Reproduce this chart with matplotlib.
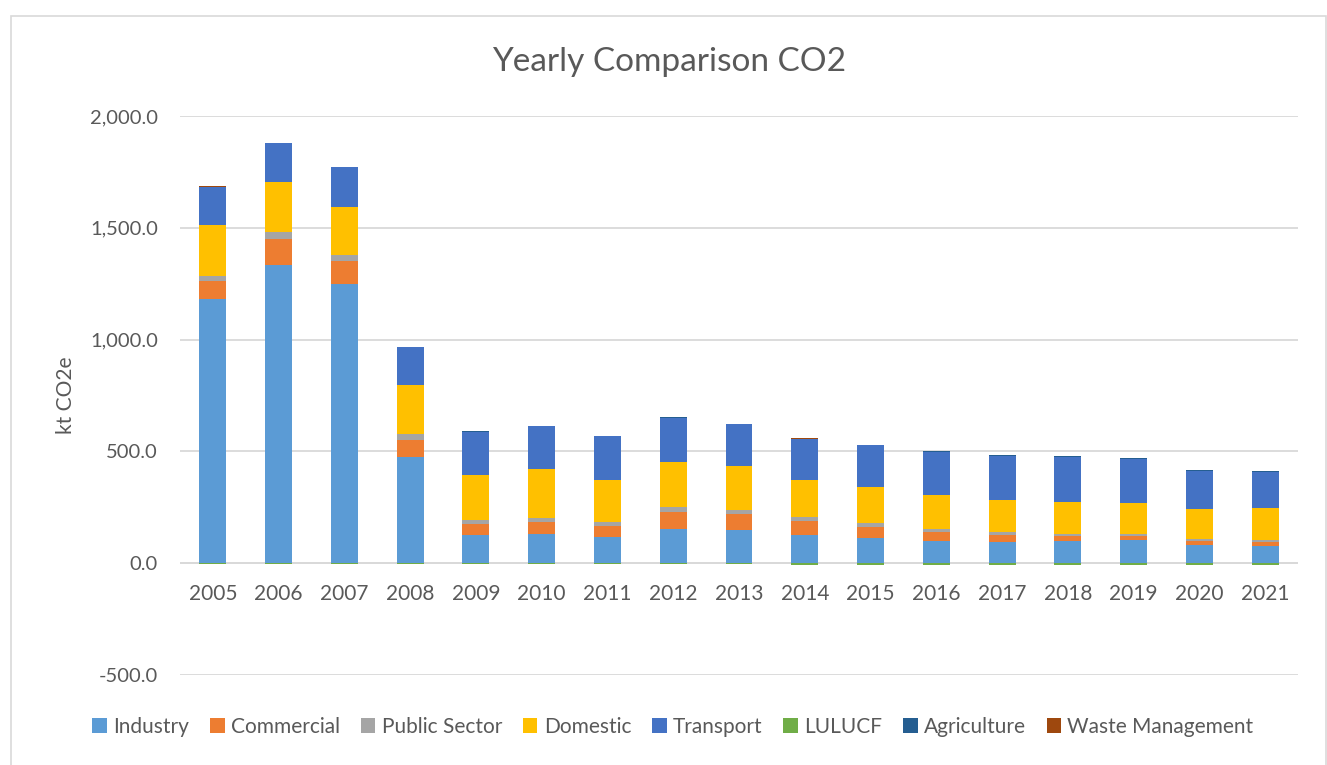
import matplotlib
matplotlib.use("Agg")
import matplotlib.pyplot as plt
import matplotlib.patches as patches
from matplotlib.ticker import FuncFormatter
import numpy as np

plt.rcParams["font.family"] = ["Lato", "DejaVu Sans"]

years = ["2005", "2006", "2007", "2008", "2009", "2010", "2011", "2012", "2013",
         "2014", "2015", "2016", "2017", "2018", "2019", "2020", "2021"]

industry = [1181, 1332, 1247, 476, 124, 131, 115, 151, 148, 127, 113, 100, 95, 100, 103, 82, 77]
commercial = [82, 116, 103, 77, 52, 54, 52, 79, 71, 62, 50, 40, 30, 22, 19, 16, 17]
public_sector = [22, 33, 27, 23, 18, 19, 16, 21, 20, 18, 15, 11, 14, 9, 9, 8, 9]
domestic = [226, 224, 217, 219, 200, 216, 188, 202, 195, 164, 161, 152, 142, 142, 136, 136, 142]
transport = [171, 173, 176, 170, 194, 192, 196, 197, 187, 184, 188, 195, 199, 203, 200, 171, 165]
lulucf = [-4, -4, -4, -4, -5, -5, -5, -5, -5, -6, -7, -7, -7, -7, -7, -8, -8]
agriculture = [2, 2, 2, 2, 2, 2, 2, 2, 2, 2, 2, 2, 2, 2, 2, 2, 2]
waste = [1, 1, 1, 1, 1, 1, 1, 1, 1, 1, 1, 1, 1, 1, 1, 1, 1]

series = [
    ("Industry", industry, "#5B9BD5"),
    ("Commercial", commercial, "#ED7D31"),
    ("Public Sector", public_sector, "#A5A5A5"),
    ("Domestic", domestic, "#FFC000"),
    ("Transport", transport, "#4472C4"),
    ("LULUCF", lulucf, "#70AD47"),
    ("Agriculture", agriculture, "#255E91"),
    ("Waste Management", waste, "#9E480E"),
]

text_col = "#595959"
grid_col = "#D9D9D9"

fig = plt.figure(figsize=(13.27, 7.65), dpi=100)
ax = fig.add_axes([180 / 1327, 1 - 675 / 765, 1118 / 1327, 559 / 765])

x = np.arange(len(years))
pos_bottom = np.zeros(len(years))
neg_bottom = np.zeros(len(years))
for name, vals, col in series:
    v = np.array(vals, dtype=float)
    bottom = np.where(v >= 0, pos_bottom, neg_bottom)
    ax.bar(x, v, 0.41, bottom=bottom, color=col, label=name, zorder=3)
    pos_bottom += np.where(v >= 0, v, 0)
    neg_bottom += np.where(v < 0, v, 0)

ax.set_xlim(-0.5, len(years) - 0.5)
ax.set_ylim(-500, 2000)
ax.set_yticks(np.arange(-500, 2001, 500))
ax.yaxis.set_major_formatter(FuncFormatter(lambda v, p: f"{v:,.1f}"))
ax.set_xticks(x)
ax.set_xticklabels(years)
# category labels sit under the zero line, like Excel does
ax.spines["bottom"].set_position(("data", 0))
ax.grid(axis="y", color=grid_col, linewidth=1.3, zorder=0)
ax.axhline(0, color=grid_col, linewidth=1.3, zorder=2)
for s in ax.spines.values():
    s.set_visible(False)
ax.tick_params(axis="both", length=0, colors=text_col)
ax.tick_params(axis="y", pad=16, labelsize=14.5)
ax.tick_params(axis="x", pad=15, labelsize=15)
ax.set_ylabel("kt CO2e", fontsize=15, color=text_col, labelpad=10)

fig.text(669 / 1327, 1 - 62 / 765, "Yearly Comparison CO2", ha="center", va="center",
         fontsize=24, color=text_col)

fig.legend(loc="center", bbox_to_anchor=(673 / 1327, 1 - 727 / 765), ncol=8,
           frameon=False, fontsize=15, handlelength=0.7, handleheight=0.7,
           handletextpad=0.3, columnspacing=1.0, labelcolor=text_col)

fig.patches.append(patches.Rectangle((10.5 / 1327, -0.01), 1315 / 1327, 1 - 16 / 765 + 0.01,
                                     transform=fig.transFigure, fill=False,
                                     edgecolor=grid_col, linewidth=1.2))

fig.savefig("out.png", dpi=100, facecolor="white")
